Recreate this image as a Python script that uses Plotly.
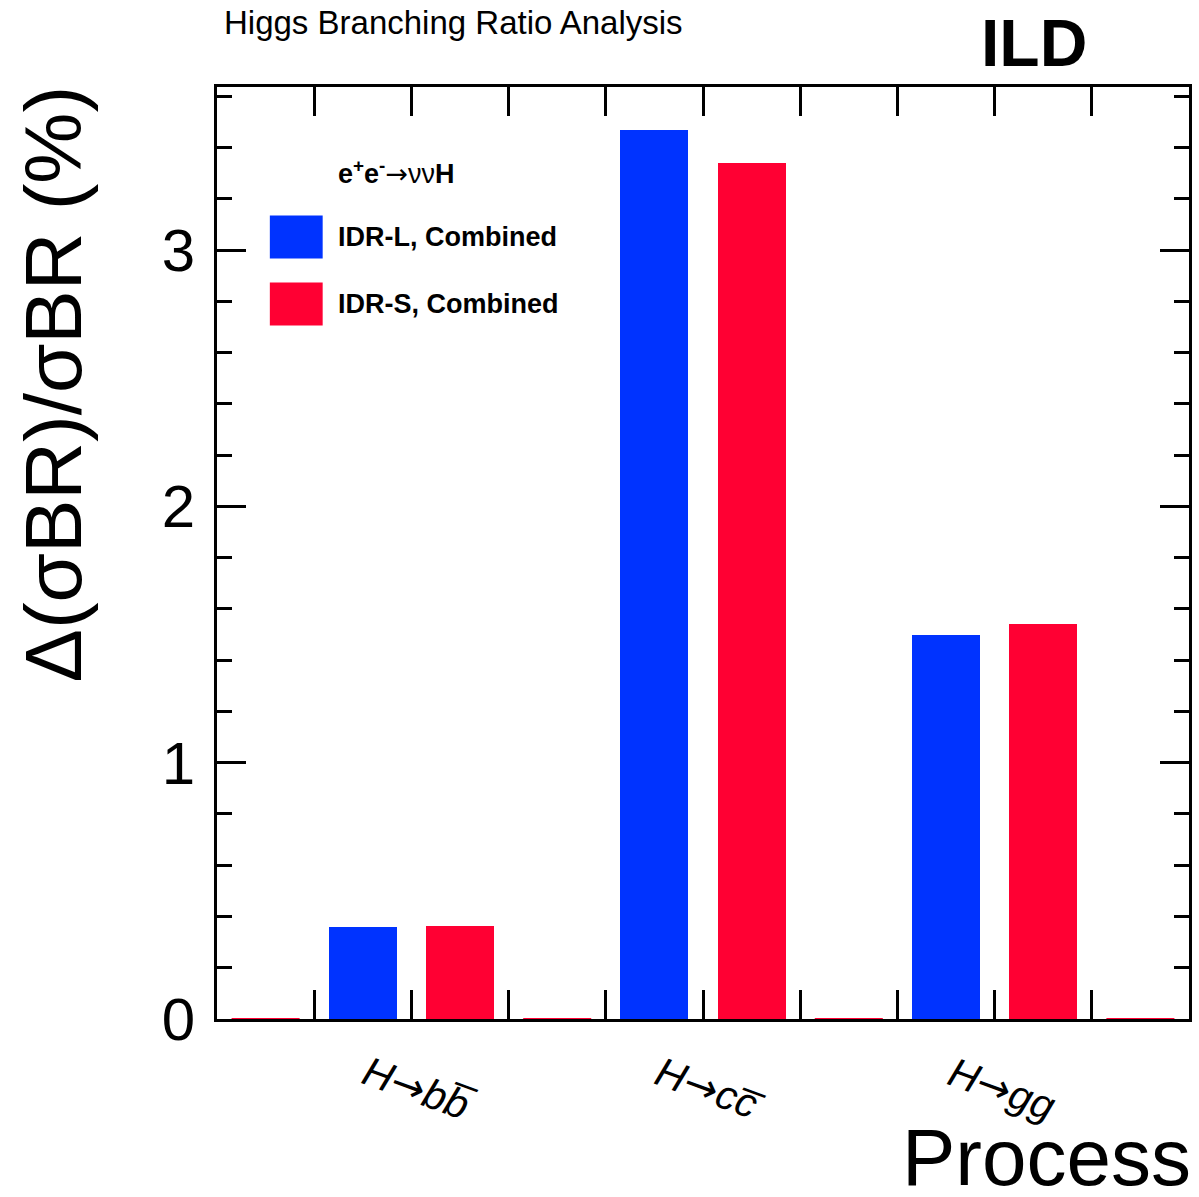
import plotly.graph_objects as go

# ---- data ----
processes = ["H\u2192bb\u0305", "H\u2192cc\u0305", "H\u2192gg"]
idr_l = [0.36, 3.47, 1.50]
idr_s = [0.364, 3.34, 1.54]
series_names = ["IDR-L, Combined", "IDR-S, Combined"]
series_colors = ["#0033FF", "#FF0033"]
y_ticks = [0, 1, 2, 3]

font_family = "Liberation Sans, Arial, Helvetica, sans-serif"
arrow = '<span style="font-family:DejaVu Sans">\u2192</span>'
process_labels = ["<i>H</i>" + arrow + "<i>bb\u0305</i>",
                  "<i>H</i>" + arrow + "<i>cc\u0305</i>",
                  "<i>H</i>" + arrow + "<i>gg</i>"]

# histogram layout: 10 bins, each process uses 3 bins (empty separators between)
n_bins = 10
bar_width = 0.7
blue_x = [1 + 3 * i + 0.5 for i in range(len(processes))]
red_x = [2 + 3 * i + 0.5 for i in range(len(processes))]
label_x = [2 + 3 * i for i in range(len(processes))]
empty_bins = [0.5, 3.5, 6.5, 9.5]

fig = go.Figure()
fig.add_trace(go.Bar(x=blue_x, y=idr_l, width=bar_width, name=series_names[0],
                     marker=dict(color=series_colors[0], line=dict(width=0)),
                     showlegend=False))
fig.add_trace(go.Bar(x=red_x, y=idr_s, width=bar_width, name=series_names[1],
                     marker=dict(color=series_colors[1], line=dict(width=0)),
                     showlegend=False))

# zero-content bins drawn as thin lines at y = 0
zx, zy = [], []
for c in empty_bins:
    zx += [c - bar_width / 2, c + bar_width / 2, None]
    zy += [0, 0, None]
fig.add_trace(go.Scatter(x=zx, y=zy, mode="lines", line=dict(color=series_colors[1], width=2),
                         showlegend=False, hoverinfo="skip"))

fig.update_layout(
    width=1199, height=1197,
    margin=dict(l=217, r=7, t=87, b=178),
    paper_bgcolor="white", plot_bgcolor="white",
    font=dict(family=font_family, color="black"),
    bargap=0,
    xaxis=dict(
        range=[0, n_bins], tickmode="array", tickvals=label_x, showticklabels=False,
        ticks="inside", ticklen=29, tickwidth=3, tickcolor="black",
        minor=dict(dtick=1, tick0=0, ticks="inside", ticklen=29, tickwidth=3, tickcolor="black"),
        showline=True, linewidth=3, linecolor="black", mirror="allticks",
        showgrid=False, zeroline=False,
    ),
    yaxis=dict(
        range=[0, 3.636], tickmode="array", tickvals=y_ticks,
        tickfont=dict(size=60, family=font_family),
        ticks="inside", ticklen=29, tickwidth=3, tickcolor="black",
        minor=dict(dtick=0.2, tick0=0, ticks="inside", ticklen=15, tickwidth=3, tickcolor="black"),
        showline=True, linewidth=3, linecolor="black", mirror="allticks",
        showgrid=False, zeroline=False, ticklabelstandoff=7,
    ),
)

# rotated process labels centred under the bin boundary of each pair
for xv, lab in zip(label_x, process_labels):
    fig.add_annotation(text=lab, x=xv, xref="x", y=0, yref="paper", xanchor="center",
                       yanchor="middle", xshift=7, yshift=-70, textangle=20, showarrow=False,
                       font=dict(size=41, family=font_family))

fig.add_annotation(text="Higgs Branching Ratio Analysis", xref="paper", yref="paper",
                   x=(222 - 217) / 975, y=1 + (87 - 22) / 932,
                   xanchor="left", yanchor="middle", showarrow=False,
                   font=dict(size=33, family=font_family))
fig.add_annotation(text="<b>ILD</b>", xref="paper", yref="paper",
                   x=1, y=1 + (87 - 43) / 932, xanchor="right", yanchor="middle",
                   xshift=-100, showarrow=False, font=dict(size=66, family=font_family))
fig.add_annotation(text="Process", xref="paper", yref="paper", x=1, y=0,
                   xanchor="right", yanchor="top", yshift=-92, xshift=4, showarrow=False,
                   font=dict(size=80, family=font_family))
fig.add_annotation(text="\u0394(\u03c3BR)/\u03c3BR (%)", xref="paper", yref="paper",
                   x=0, y=1, xanchor="center", yanchor="top", xshift=-164, yshift=3,
                   textangle=-90, showarrow=False, font=dict(size=80, family=font_family))

# legend (drawn manually to match large boxes)
fig.add_annotation(text="<b>e<sup>+</sup>e<sup>-</sup></b>" + arrow + "\u03bd\u03bd<b>H</b>",
                   xref="paper", yref="paper",
                   x=(336 - 217) / 975, y=(1019 - 172) / 932, xanchor="left", yanchor="middle",
                   showarrow=False, font=dict(size=27, family=font_family))
legend_rows = [237, 304]
for name, color, yc in zip(series_names, series_colors, legend_rows):
    fig.add_shape(type="rect", xref="paper", yref="paper",
                  x0=(270 - 217) / 975, x1=(323 - 217) / 975,
                  y0=(1019 - (yc + 21.5)) / 932, y1=(1019 - (yc - 21.5)) / 932,
                  fillcolor=color, line=dict(width=0))
    fig.add_annotation(text="<b>" + name + "</b>", xref="paper", yref="paper",
                       x=(336 - 217) / 975, y=(1019 - yc) / 932, xanchor="left", yanchor="middle",
                       showarrow=False, font=dict(size=27, family=font_family))

fig.write_html("out.html")
